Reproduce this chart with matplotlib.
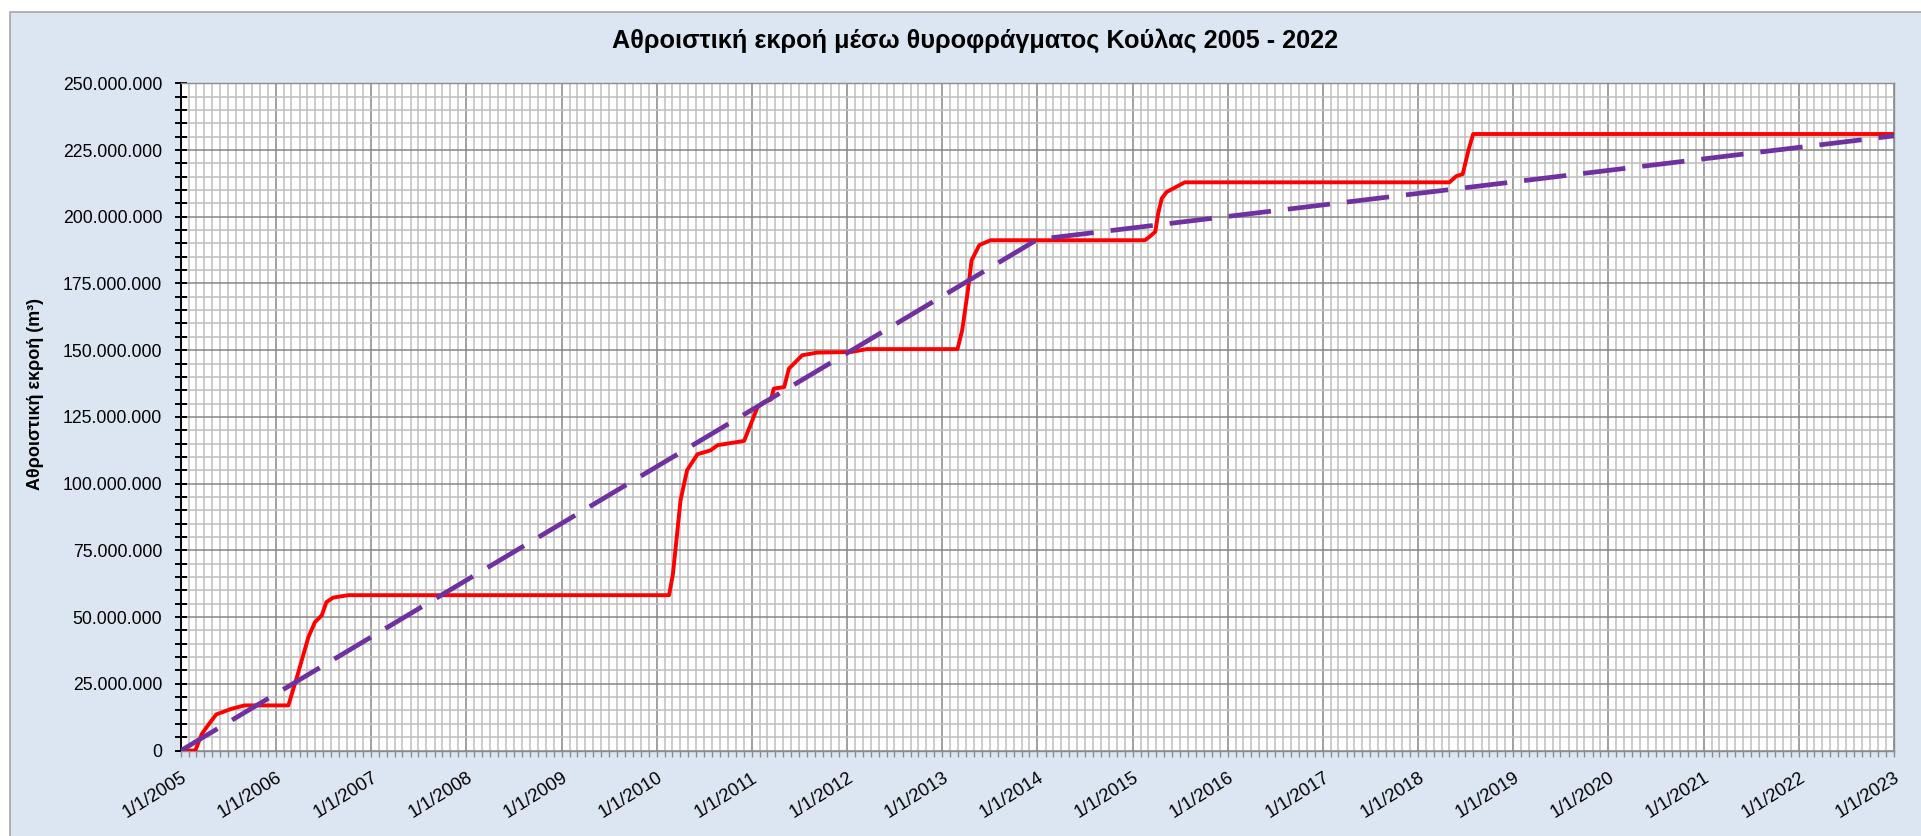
import pandas as pd
import matplotlib
matplotlib.use("Agg")
import matplotlib.pyplot as plt
import matplotlib.dates as mdates
from matplotlib.ticker import MultipleLocator, FuncFormatter
from matplotlib.patches import Rectangle

plt.rcParams['font.family'] = ['Liberation Sans', 'DejaVu Sans']

# cumulative outflow (million m3)
flow_dates = [
    '2005-01-01', '2005-02-25', '2005-03-22', '2005-04-09', '2005-05-16', '2005-07-13',
    '2005-09-02', '2006-02-17', '2006-03-18', '2006-05-05', '2006-05-30', '2006-06-25',
    '2006-07-13', '2006-08-08', '2006-10-05', '2010-02-17', '2010-03-04', '2010-04-02',
    '2010-04-27', '2010-06-06', '2010-07-27', '2010-08-22', '2010-12-02', '2010-12-13',
    '2011-01-23', '2011-02-17', '2011-03-15', '2011-03-26', '2011-05-05', '2011-05-23',
    '2011-07-13', '2011-09-09', '2012-01-15', '2012-03-17', '2013-02-28', '2013-03-18',
    '2013-04-09', '2013-04-23', '2013-05-23', '2013-07-05', '2015-02-17', '2015-03-07',
    '2015-03-29', '2015-04-09', '2015-04-23', '2015-05-12', '2015-06-06', '2015-07-20',
    '2018-05-01', '2018-05-27', '2018-06-21', '2018-07-13', '2018-07-31', '2023-01-01',
]
flow_values = [
    0.0, 0.0, 6.2, 8.7, 13.5, 15.6,
    16.9, 16.9, 26.2, 42.5, 48.1, 50.6,
    55.6, 57.3, 58.2, 58.2, 66.2, 93.7,
    105.0, 111.0, 112.5, 114.4, 116.0, 118.7,
    128.7, 130.6, 131.5, 135.6, 136.2, 143.1,
    148.1, 149.1, 149.3, 150.4, 150.4, 157.5,
    172.5, 183.7, 189.4, 191.2, 191.2, 192.5,
    194.4, 201.2, 206.9, 209.3, 210.6, 212.9,
    212.9, 215.2, 216.0, 225.0, 231.0, 231.0,
]

# dashed trend line
trend_dates = ['2005-01-01', '2014-01-01', '2023-01-01']
trend_values = [0.0, 191.5, 230.3]

title = 'Αθροιστική εκροή μέσω θυροφράγματος Κούλας 2005 - 2022'
ylabel = 'Αθροιστική εκροή (m³)'

x_flow = pd.to_datetime(flow_dates)
y_flow = [v * 1e6 for v in flow_values]
x_trend = pd.to_datetime(trend_dates)
y_trend = [v * 1e6 for v in trend_values]

W, H = 1921, 836
fig = plt.figure(figsize=(W / 100, H / 100), dpi=100, facecolor='white')
fig.patches.append(Rectangle((10 / W, -0.02), 1.02, 1.02 - 12 / H, transform=fig.transFigure,
                             facecolor='#DCE6F2', edgecolor='#A6A6A6', lw=1.2, zorder=-10))

ax = fig.add_axes([181 / W, 1 - 750.5 / H, (1894 - 181) / W, (750.5 - 83.3) / H])
ax.set_zorder(1)
ax.set_facecolor('white')

ax.plot(x_flow, y_flow, color='#FF0000', lw=2.8, solid_joinstyle='round', zorder=3)
ax.plot(x_trend, y_trend, color='#7030A0', lw=3.4, dashes=(9, 3.6), zorder=4)

ax.set_xlim(pd.Timestamp('2005-01-01'), pd.Timestamp('2023-01-01'))
ax.set_ylim(0, 250e6)

ax.xaxis.set_major_locator(mdates.YearLocator(1))
ax.xaxis.set_minor_locator(mdates.MonthLocator())
ax.xaxis.set_major_formatter(FuncFormatter(lambda v, p: '1/1/%d' % mdates.num2date(v).year))
ax.yaxis.set_major_locator(MultipleLocator(25e6))
ax.yaxis.set_minor_locator(MultipleLocator(5e6))
ax.yaxis.set_major_formatter(FuncFormatter(lambda v, p: f'{int(round(v)):,}'.replace(',', '.')))

ax.set_axisbelow(True)
ax.grid(which='minor', color='#BFBFBF', lw=1.1)
ax.grid(which='major', color='#868686', lw=1.1)

for s in ['top', 'right', 'bottom']:
    ax.spines[s].set_color('#8C8C8C')
    ax.spines[s].set_linewidth(1.0)
ax.spines['left'].set_color('black')
ax.spines['left'].set_linewidth(1.4)

ax.tick_params(axis='y', which='both', direction='inout', length=8, width=1.4,
               color='black', labelsize=12.7, pad=9.5)
ax.tick_params(axis='x', which='both', direction='out', length=4.5, width=1.0,
               color='#8C8C8C', labelsize=13.3, pad=9)
for lbl in ax.get_xticklabels():
    lbl.set_rotation(32)
    lbl.set_ha('right')
    lbl.set_va('top')
    lbl.set_rotation_mode('anchor')

fig.text(975 / W, 1 - 41 / H, title, ha='center', va='center', fontsize=18.2, fontweight='bold')
fig.text(36 / W, 1 - 394 / H, ylabel, ha='center', va='center', rotation=90,
         fontsize=13, fontweight='bold')

fig.savefig('out.png', dpi=100, facecolor=fig.get_facecolor())
